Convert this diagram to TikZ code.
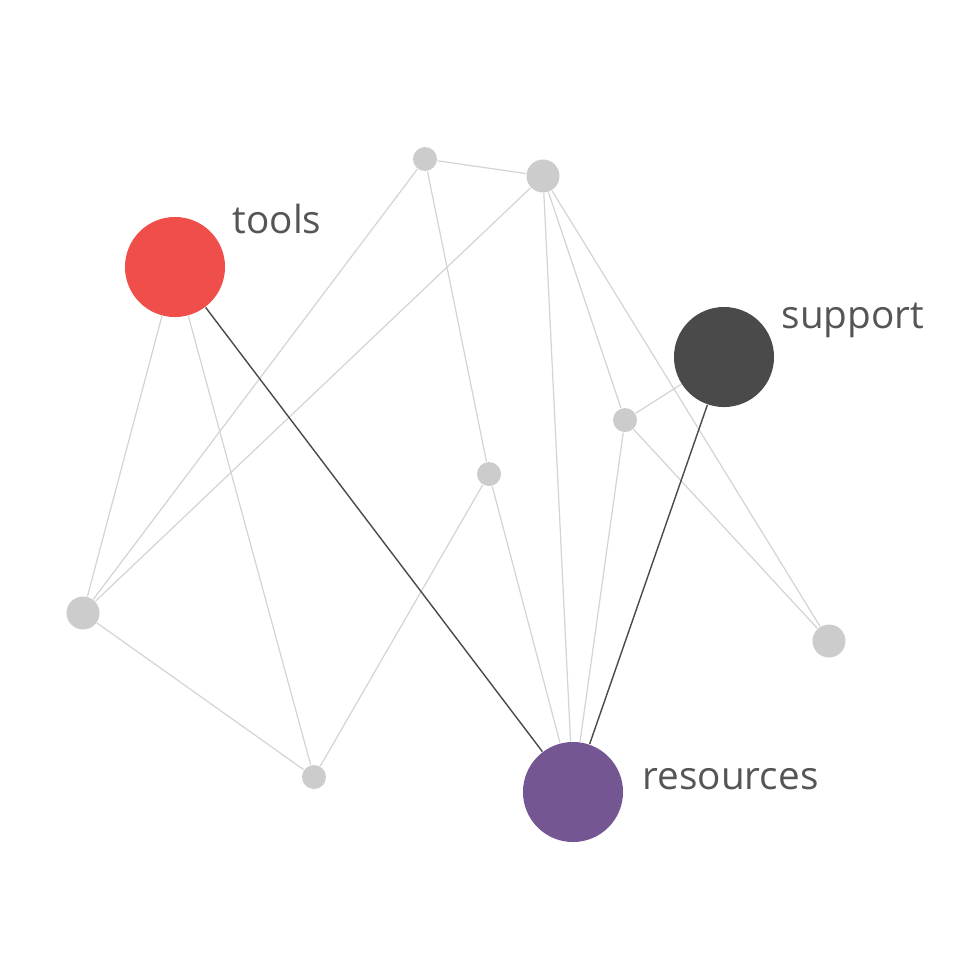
\documentclass[tikz,border=0pt]{standalone}
\usepackage{fontspec}
\setmainfont{Open Sans}
\usetikzlibrary{positioning}

\definecolor{toolred}{HTML}{F04E4A}
\definecolor{supgray}{HTML}{4A4A4A}
\definecolor{respurple}{HTML}{745693}
\definecolor{dotgray}{HTML}{CCCCCC}
\definecolor{linkgray}{HTML}{D4D4D4}
\definecolor{txtgray}{HTML}{555555}

\tikzset{
  topic/.style={circle, minimum size=1cm, inner sep=0pt},
  dot/.style={circle, fill=dotgray, inner sep=0pt},
  link/.style={draw=linkgray, line width=0.35pt},
  strong/.style={draw=supgray, line width=0.4pt},
  tag/.style={anchor=base west, inner sep=0pt, text=txtgray, font=\fontsize{11}{13}\selectfont}
}

\begin{document}
\begin{tikzpicture}[x=0.01cm, y=-0.01cm]
    \useasboundingbox (0,0) rectangle (960,960);
    % main topics
    \node (tools) [topic, fill=toolred] at (175,267) {};
    \node (sup) [topic, fill=supgray] at (724,357) {};
    \node (res) [topic, fill=respurple] at (573,792) {};
    %%%%%%%%%
    \node (n1) [dot, minimum size=0.24cm] at (425,159) {};
    \node (n2) [dot, minimum size=0.33cm] at (543,176) {};
    \node (n3) [dot, minimum size=0.24cm] at (625,420) {};
    \node (n4) [dot, minimum size=0.24cm] at (489,474) {};
    \node (n5) [dot, minimum size=0.33cm] at (83,613) {};
    \node (n6) [dot, minimum size=0.24cm] at (314,777) {};
    \node (n7) [dot, minimum size=0.33cm] at (829,641) {};
    %%%%%%%%%
    \node (tt) [tag] at (232,233) {tools};
    \node (ts) [tag] at (781,328) {support};
    \node (tr) [tag] at (642,789) {resources};
    %%%%%%%%%
        \draw[link] (n1) -- (n2);
        \draw[link] (n1) -- (n5);
        \draw[link] (n1) -- (n4);
        \draw[link] (n2) -- (n5);
        \draw[link] (n2) -- (res);
        \draw[link] (n2) -- (n3);
        \draw[link] (n2) -- (n7);
        \draw[link] (tools) -- (n5);
        \draw[link] (tools) -- (n6);
        \draw[link] (sup) -- (n3);
        \draw[link] (n3) -- (n7);
        \draw[link] (n3) -- (res);
        \draw[link] (n4) -- (res);
        \draw[link] (n4) -- (n6);
        \draw[link] (n5) -- (n6);
        \draw[strong] (tools) -- (res);
        \draw[strong] (sup) -- (res);
\end{tikzpicture}
\end{document}
